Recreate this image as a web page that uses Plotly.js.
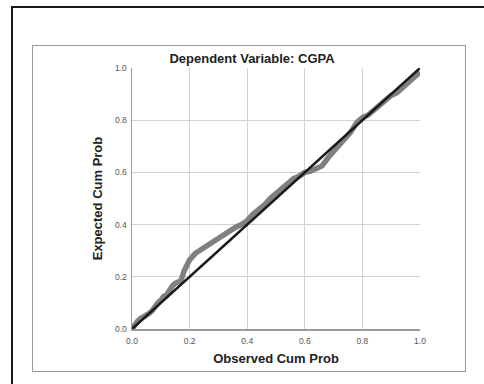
<!DOCTYPE html>
<html>
<head>
<meta charset="utf-8">
<script src="https://cdn.plot.ly/plotly-3.0.1.min.js"></script>
<style>
  html, body { margin: 0; padding: 0; background: #ffffff; width: 484px; height: 384px; overflow: hidden; }
  #topline { position: absolute; left: 11px; top: 6px; width: 473px; height: 2px; background: #1a1a1a; }
  #leftline { position: absolute; left: 11px; top: 6px; width: 2px; height: 378px; background: #1a1a1a; }
  #frame { position: absolute; left: 32px; top: 45px; width: 432px; height: 325px; border: 1.5px solid #9a9a9a; }
  #chart { position: absolute; left: 0; top: 0; width: 484px; height: 384px; }
</style>
</head>
<body>
<div id="topline"></div>
<div id="leftline"></div>
<div id="frame"></div>
<div id="chart"></div>
<script>
// Observed vs expected cumulative probabilities (P-P plot)
const observedCumProb = [0, 0.01, 0.02, 0.03, 0.04, 0.05, 0.06, 0.07, 0.08, 0.09, 0.10, 0.11, 0.12, 0.13, 0.14, 0.15, 0.16, 0.17, 0.18, 0.19, 0.20, 0.22, 0.24, 0.26, 0.28, 0.30, 0.32, 0.34, 0.36, 0.38, 0.40, 0.42, 0.44, 0.46, 0.48, 0.50, 0.52, 0.54, 0.56, 0.58, 0.60, 0.62, 0.64, 0.66, 0.68, 0.70, 0.72, 0.74, 0.76, 0.78, 0.80, 0.82, 0.84, 0.86, 0.88, 0.90, 0.92, 0.94, 0.96, 0.98, 1.00];
const expectedCumProb = [0, 0.02, 0.03, 0.04, 0.045, 0.05, 0.06, 0.07, 0.09, 0.10, 0.11, 0.125, 0.13, 0.15, 0.165, 0.175, 0.18, 0.185, 0.22, 0.245, 0.265, 0.29, 0.305, 0.32, 0.33, 0.345, 0.36, 0.375, 0.39, 0.40, 0.415, 0.44, 0.455, 0.475, 0.50, 0.52, 0.54, 0.56, 0.575, 0.585, 0.60, 0.605, 0.615, 0.625, 0.655, 0.68, 0.70, 0.725, 0.755, 0.79, 0.81, 0.82, 0.84, 0.855, 0.875, 0.895, 0.905, 0.925, 0.945, 0.965, 0.985];
const refLineX = [0, 1];
const refLineY = [0, 1];
const tickVals = [0, 0.2, 0.4, 0.6, 0.8, 1.0];
const tickLabels = ["0.0", "0.2", "0.4", "0.6", "0.8", "1.0"];
const chartTitle = "Dependent Variable: CGPA";
const xTitle = "Observed Cum Prob";
const yTitle = "Expected Cum Prob";

const traces = [
  { x: observedCumProb, y: expectedCumProb, type: 'scatter', mode: 'lines',
    line: { color: '#808080', width: 5.5 }, hoverinfo: 'skip', showlegend: false },
  { x: refLineX, y: refLineY, type: 'scatter', mode: 'lines',
    line: { color: '#1a1a1a', width: 2.5 }, hoverinfo: 'skip', showlegend: false }
];

const axisCommon = {
  range: [0, 1], tickvals: tickVals, ticktext: tickLabels,
  showgrid: true, gridcolor: '#d2d2d2', gridwidth: 1,
  zeroline: false, showline: true, linecolor: '#9a9a9a', linewidth: 1.5,
  ticks: '', tickfont: { family: 'Liberation Sans, Arial, sans-serif', size: 8.5, color: '#555555' },
  fixedrange: true
};

const layout = {
  width: 484, height: 384,
  margin: { l: 132, r: 64, t: 68, b: 55 },
  paper_bgcolor: 'rgba(0,0,0,0)', plot_bgcolor: 'rgba(0,0,0,0)',
  font: { family: 'Liberation Sans, Arial, sans-serif' },
  title: { text: '<b>' + chartTitle + '</b>', x: 0.4167, xref: 'paper', xanchor: 'center',
           y: 1 - 58/384, yref: 'container', yanchor: 'middle',
           font: { size: 13, color: '#222222', family: 'Liberation Sans, Arial, sans-serif' } },
  xaxis: Object.assign({}, axisCommon, {
    title: { text: '<b>' + xTitle + '</b>', standoff: 9, font: { size: 13, color: '#222222' } },
    ticklabelstandoff: 3
  }),
  yaxis: Object.assign({}, axisCommon, {
    title: { text: '<b>' + yTitle + '</b>', standoff: 9, font: { size: 13, color: '#222222' } },
    ticklabelstandoff: 2
  })
};

Plotly.newPlot('chart', traces, layout, { displayModeBar: false, staticPlot: true });
</script>
</body>
</html>
